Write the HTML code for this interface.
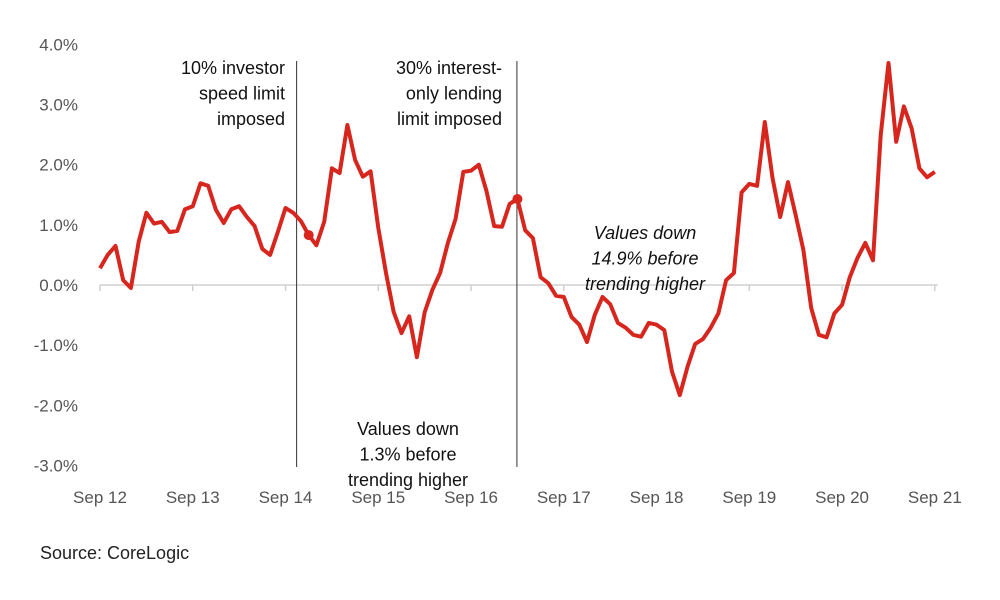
<!DOCTYPE html>
<html><head><meta charset="utf-8"><style>
body{margin:0;background:#fff;width:1000px;height:595px;overflow:hidden}
svg text{font-family:"Liberation Sans",sans-serif}
</style></head><body>
<svg id="chart" width="1000" height="595" viewBox="0 0 1000 595" xmlns="http://www.w3.org/2000/svg">
<g id="axes"></g>
<g id="annots"></g>
<g id="series"></g>
<text x="40" y="559" font-size="18" fill="#222">Source:  CoreLogic</text>
</svg>
<script>
const yTicks=[4,3,2,1,0,-1,-2,-3];
const yTickLabels=["4.0%","3.0%","2.0%","1.0%","0.0%","-1.0%","-2.0%","-3.0%"];
const xTickLabels=["Sep 12","Sep 13","Sep 14","Sep 15","Sep 16","Sep 17","Sep 18","Sep 19","Sep 20","Sep 21"];
const values=[0.28,0.5,0.65,0.08,-0.05,0.72,1.2,1.02,1.05,0.88,0.9,1.26,1.31,1.69,1.65,1.25,1.03,1.26,1.31,1.13,0.98,0.6,0.5,0.88,1.28,1.2,1.06,0.83,0.66,1.05,1.94,1.86,2.66,2.08,1.8,1.89,0.95,0.2,-0.45,-0.8,-0.52,-1.2,-0.45,-0.08,0.2,0.7,1.1,1.88,1.9,2.0,1.56,0.98,0.97,1.35,1.43,0.91,0.78,0.13,0.03,-0.18,-0.2,-0.53,-0.66,-0.95,-0.5,-0.2,-0.32,-0.63,-0.71,-0.83,-0.86,-0.63,-0.66,-0.75,-1.44,-1.83,-1.36,-0.98,-0.9,-0.71,-0.47,0.08,0.2,1.54,1.68,1.65,2.71,1.78,1.13,1.71,1.16,0.58,-0.38,-0.83,-0.87,-0.47,-0.33,0.13,0.45,0.7,0.41,2.49,3.69,2.38,2.97,2.6,1.94,1.79,1.88];
const markerIdx=[27,54];
const eventIdx=[25.5,54];
const NS="http://www.w3.org/2000/svg";
function x(m){return 100+m*7.73;}
function y(v){return 285-v*60.15;}
function mk(t,a,p){const e=document.createElementNS(NS,t);for(const k in a)e.setAttribute(k,a[k]);p.appendChild(e);return e;}
const axes=document.getElementById('axes'),an=document.getElementById('annots'),se=document.getElementById('series');
yTicks.forEach((v,i)=>{const t=mk('text',{x:78,y:y(v)+6,'font-size':17,fill:'#555','text-anchor':'end'},axes);t.textContent=yTickLabels[i];

});
const base=mk('line',{x1:x(0),x2:x(108)+3,y1:y(0),y2:y(0),stroke:'#d0d0d0','stroke-width':1.5},axes);


xTickLabels.forEach((l,i)=>{const xx=x(i*12);
const tk=mk('line',{x1:xx,x2:xx,y1:y(0),y2:y(0)+6,stroke:'#d0d0d0','stroke-width':1.5},axes);


const t=mk('text',{x:xx,y:503,'font-size':17,fill:'#555','text-anchor':'middle'},axes);t.textContent=l;

});
eventIdx.forEach(m=>{const l=mk('line',{x1:x(m)-0.5,x2:x(m)-0.5,y1:61,y2:467,stroke:'#333','stroke-width':1},an);

});
function lines(arr,xx,y0,anchor,italic,name){const t=mk('text',{x:xx,y:y0,'font-size':18,fill:'#111','text-anchor':anchor},an);
if(italic)t.setAttribute('font-style','italic');


arr.forEach((s,i)=>{const ts=mk('tspan',{x:xx,y:y0+i*25.5},t);ts.textContent=s;});}
lines(["10% investor","speed limit","imposed"],285,74,'end',false,'investor-limit-annotation');
lines(["30% interest-","only lending","limit imposed"],502,74,'end',false,'interest-only-annotation');
lines(["Values down","1.3% before","trending higher"],408,435,'middle',false,'decline-1-3-annotation');
lines(["Values down","14.9% before","trending higher"],645,239,'middle',true,'decline-14-9-annotation');
const p=mk('path',{d:values.map((v,i)=>(i?'L':'M')+x(i).toFixed(1)+','+y(v).toFixed(1)).join(''),fill:'none',stroke:'#d7261e','stroke-width':4,'stroke-linejoin':'round'},se);


markerIdx.forEach(i=>{const c=mk('circle',{cx:x(i),cy:y(values[i]),r:5,fill:'#d7261e'},se);

});
</script>
</body></html>
